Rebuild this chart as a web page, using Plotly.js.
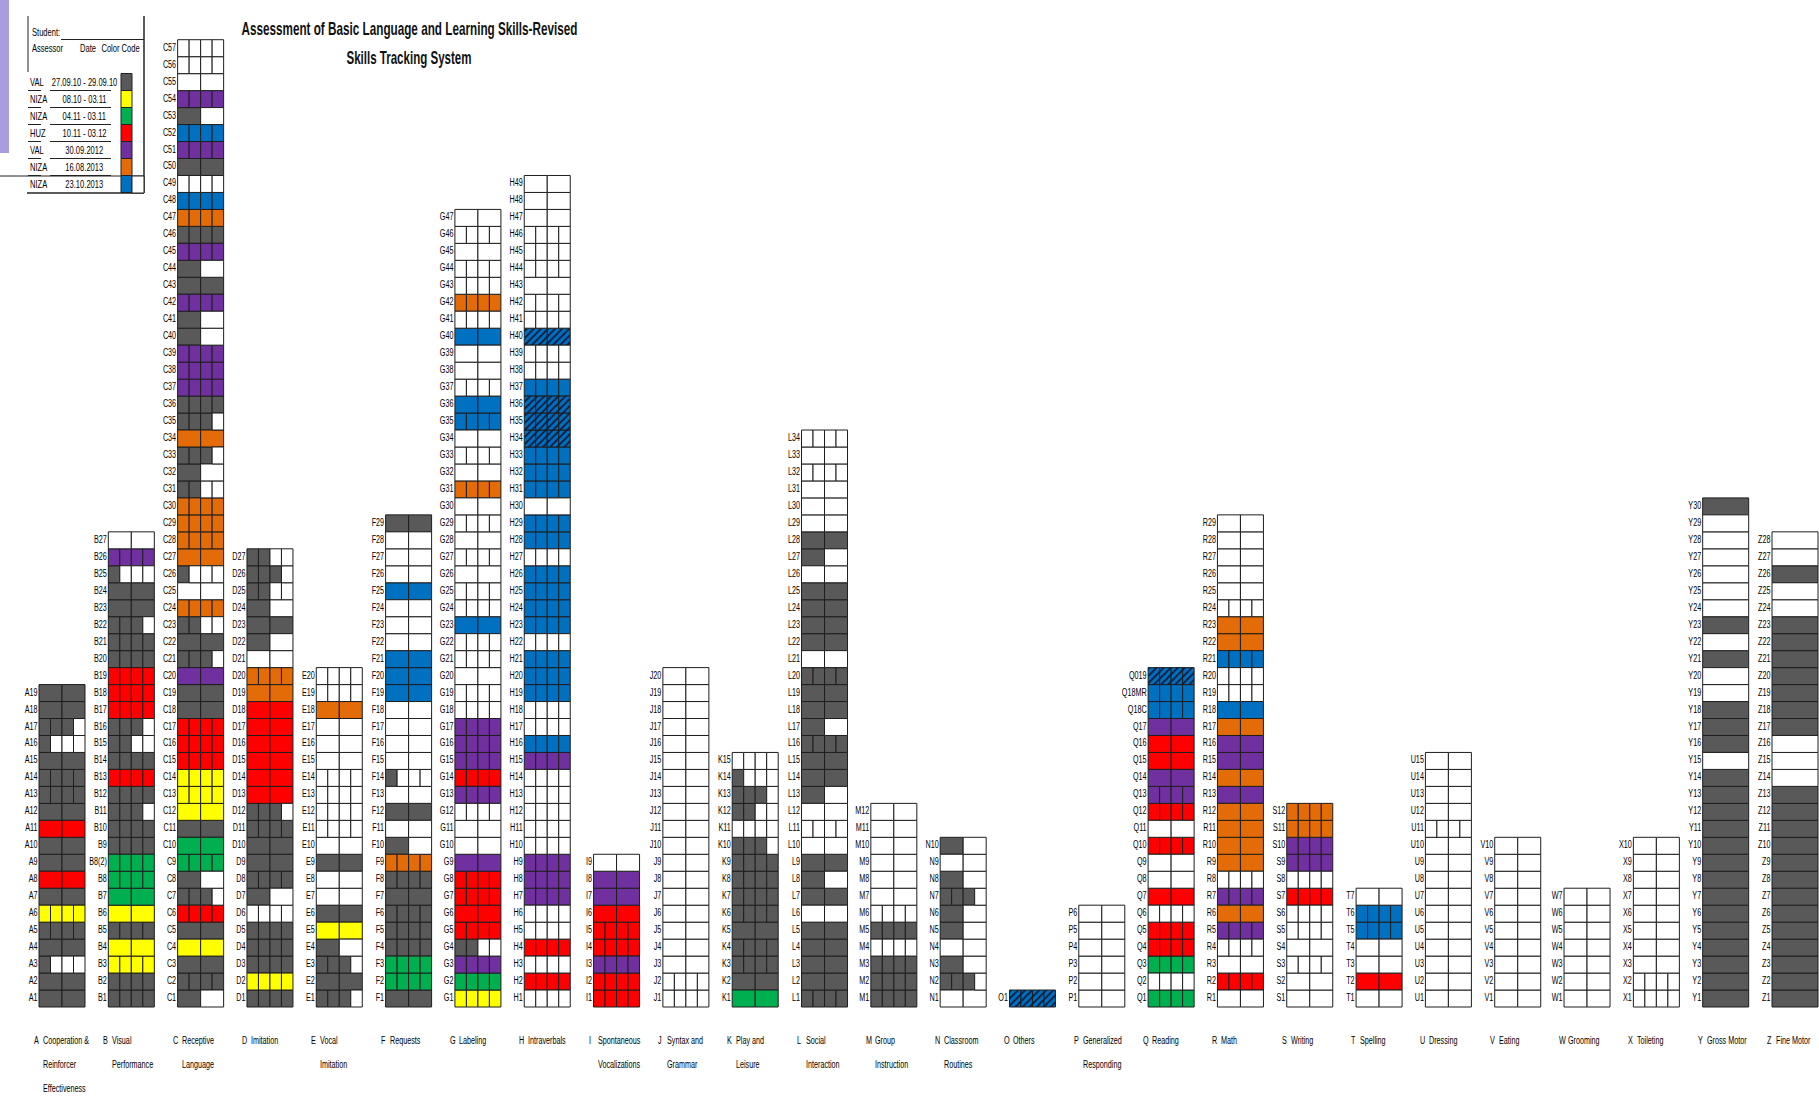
<!DOCTYPE html>
<html>
<head>
<meta charset="utf-8">
<script src="https://cdn.plot.ly/plotly-3.0.1.min.js"></script>
<style>
html,body{margin:0;padding:0;background:#fff;}
#chart{width:1819px;height:1096px;}
</style>
</head>
<body>
<div id="chart"></div>
<script>
// ---------------- DATA ----------------
const categoryLetters = ["A","B","C","D","E","F","G","H","I","J","K","L","M","N","O","P","Q","R","S","T","U","V","W","X","Y","Z"];
const categoryNames = [
  ["Cooperation &","Reinforcer","Effectiveness"],
  ["Visual","Performance"],
  ["Receptive","Language"],
  ["Imitation"],
  ["Vocal","Imitation"],
  ["Requests"],
  ["Labeling"],
  ["Intraverbals"],
  ["Spontaneous","Vocalizations"],
  ["Syntax and","Grammar"],
  ["Play and","Leisure"],
  ["Social","Interaction"],
  ["Group","Instruction"],
  ["Classroom","Routines"],
  ["Others"],
  ["Generalized","Responding"],
  ["Reading"],
  ["Math"],
  ["Writing"],
  ["Spelling"],
  ["Dressing"],
  ["Eating"],
  ["Grooming"],
  ["Toileting"],
  ["Gross Motor"],
  ["Fine Motor"]
];

// Each item, from item 1 upward: one letter per sub-cell, coded by assessment colour
// G=VAL 27.09.10, Y=NIZA 08.10, N=NIZA 04.11, R=HUZ 10.11, P=VAL 2012, O=NIZA 16.08.2013, B=NIZA 23.10.2013, X=hatched, W=not scored
const itemsA = ["GG","GG","GWWW","GG","GGGG","YYYY","GG","RR","GG","GG","RR","GG","GGGG","GGGG","GG","GWWW","GGGW","GG","GG"];
const itemsB = ["GGGG","GGGG","YYYY","YY","GGGG","YY","NN","NNNN","NNNN","GGGG","GGGG","GGGW","GGGG","RRRR","GGGG","GGWW","GGGW","RRRR","RRRR","RRRR","GGGG","GGGG","GGGW","GG","GG","GWWW","PPPP","WW"];
const itemsC = ["GW","GGGG","GG","YY","GG","RRRR","GGGW","GW","NNNN","NN","GG","YY","YYYY","YYYY","RRRR","RRRR","RRRR","GG","GG","PP","GGGW","GG","GGWW","OOOO","WW","GWWW","OO","OOOO","OOOO","OOOO","GGWW","GW","GGGW","OO","GGGW","GGGG","PPPP","PPPP","PPPP","GW","GW","PPPP","GG","GW","PPPP","GGGG","OOOO","BBBB","WWWW","GG","PPPP","BBBB","GW","PPPP","WW","WWWW","WWWW"];
const itemsD = ["GGGG","YYYY","GGGG","GGGG","GGGG","WWWW","GW","GGGG","GG","GG","GGGG","GGGW","RR","RR","RR","RR","RR","RR","OO","OOOO","WW","GW","GG","GW","GGWW","GGGW","GGWW"];
const itemsE = ["GGGW","GG","GGGW","GW","YY","GG","WW","WW","GG","WW","WWWW","WWWW","WWWW","WWWW","WW","WW","WW","OO","WWWW","WWWW"];
const itemsF = ["GG","NNNN","NNNN","GGGG","GGGG","GGGG","GG","GGGG","OOOO","GW","WW","GG","WW","GWWW","WW","WW","WW","WW","BB","BB","BB","WW","WW","WW","BB","WW","WW","WW","GG"];
const itemsG = ["YYYY","NNNN","PPPP","GGWW","RRRR","RR","RRRR","RRRR","PP","WW","WW","WWWW","PPPP","RRRR","PPPP","PPPP","PPPP","WWWW","WWWW","WW","WWWW","WWWW","BB","WWWW","WWWW","WW","WWWW","WW","WWWW","WW","OOOO","WW","WWWW","WW","BBBB","BB","WWWW","WW","WW","BB","WWWW","OOOO","WWWW","WWWW","WW","WWWW","WW"];
const itemsH = ["WWWW","RRRR","WWWW","RRRR","WWWW","WWWW","PPPP","PPPP","PPPP","WWWW","WWWW","WWWW","WWWW","WWWW","PPPP","BBBB","WWWW","WWWW","BBBB","BBBB","BBBB","WWWW","BBBB","BBBB","BBBB","BBBB","WWWW","BBBB","BBBB","WW","BBBB","BBBB","BBBB","XXXX","XXXX","XXXX","BBBB","WWWW","WWWW","XX","WWWW","WWWW","WW","WWWW","WWWW","WWWW","WW","WW","WW"];
const itemsI = ["RRRR","RRRR","PPPP","RRRR","RRRR","RR","PP","PP","WW"];
const itemsJ = ["WWWW","WWWW","WW","WW","WW","WW","WW","WW","WW","WW","WW","WW","WW","WW","WW","WW","WW","WW","WW","WW"];
const itemsK = ["NN","GG","GGGG","GGGG","GG","GGGG","GGGG","GGGG","GGGG","GGGW","WWWW","GGWW","GGGW","GWWW","WWWW"];
const itemsL = ["GGGG","GG","GG","GG","GG","WW","GG","GW","GG","WW","WWWW","WW","GW","GG","GG","GGGG","GW","GG","GG","GGGG","WW","GG","GG","GG","GG","WW","GW","GG","WW","WW","WW","WWWW","WW","WWWW"];
const itemsM = ["GGGG","GGGG","GGGG","WWWW","GGGG","WWWW","WW","WW","WW","WW","WW","WW"];
const itemsN = ["WW","GGGW","GW","WW","GW","GW","GGGW","GW","WW","GW"];
const itemsO = ["XXXX"];
const itemsP = ["WW","WW","WW","WW","WW","WW"];
const itemsQ = ["NNNN","WWWW","NNNN","RRRR","RRRR","WWWW","RR","WW","WW","RRRR","WW","RRRR","PPPP","PP","RR","RR","PP","BBBB","BBBB","XXXX"];
const itemsR = ["WW","RRRR","WW","WWWW","PPPP","OO","PPPP","WWWW","OO","OO","OO","OO","PP","OO","PP","PP","OO","BB","WWWW","WWWW","BBBB","OO","OO","WWWW","WW","WW","WW","WW","WW"];
const itemsS = ["WW","WW","WWWW","WW","WWWW","WWWW","RRRR","WWWW","PPPP","PPPP","OOOO","OOOO"];
const itemsT = ["WW","RR","WW","WW","BBBB","BBBB","WW"];
const itemsU = ["WW","WW","WW","WW","WW","WW","WW","WW","WW","WW","WWWW","WW","WW","WW","WW"];
const itemsV = ["WW","WW","WW","WW","WW","WW","WW","WW","WW","WW"];
const itemsW = ["WW","WW","WW","WW","WW","WW","WW"];
const itemsX = ["WWWW","WWWW","WW","WW","WW","WW","WW","WW","WW","WW"];
const itemsY = ["G","G","G","G","G","G","G","G","G","G","G","G","G","G","W","G","G","G","W","W","G","W","G","W","W","W","W","W","W","G"];
const itemsZ = ["G","G","G","G","G","G","G","G","G","G","G","G","G","W","W","W","G","G","G","G","G","G","G","W","W","G","W","W"];

const labelsB = ["B1","B2","B3","B4","B5","B6","B7","B8","B8(2)","B9","B10","B11","B12","B13","B14","B15","B16","B17","B18","B19","B20","B21","B22","B23","B24","B25","B26","B27"];
const labelsQ = ["Q1","Q2","Q3","Q4","Q5","Q6","Q7","Q8","Q9","Q10","Q11","Q12","Q13","Q14","Q15","Q16","Q17","Q18C","Q18MR","Q019"];

const legendAssessors = ["VAL","NIZA","NIZA","HUZ","VAL","NIZA","NIZA"];
const legendDates = ["27.09.10 - 29.09.10","08.10 - 03.11","04.11 - 03.11","10.11 - 03.12","30.09.2012","16.08.2013","23.10.2013"];
const legendCodes = ["G","Y","N","R","P","O","B"];

const titleLine1 = "Assessment of Basic Language and Learning Skills-Revised";
const titleLine2 = "Skills Tracking System";

// ---------------- STYLE / LAYOUT ----------------
const palette = {G:"#595959",Y:"#ffff00",N:"#00b050",R:"#ff0000",P:"#7030a0",O:"#e36c09",B:"#0070c0",X:"#0070c0",W:"#ffffff"};
const FONT = "'Liberation Sans Narrow','Arial Narrow','Liberation Sans',Arial,sans-serif";
const COL_PX = 69.32, LEFT_PX = 39, ROW_PX = 16.97, BASE_PX = 1007, W_PX = 1819, H_PX = 1096;
const GRID_W = 46 / COL_PX;
const X = px => (px - LEFT_PX) / COL_PX;
const Y = py => (BASE_PX - py) / ROW_PX;

const allItems = [itemsA,itemsB,itemsC,itemsD,itemsE,itemsF,itemsG,itemsH,itemsI,itemsJ,itemsK,itemsL,itemsM,itemsN,itemsO,itemsP,itemsQ,itemsR,itemsS,itemsT,itemsU,itemsV,itemsW,itemsX,itemsY,itemsZ];
const customLabels = {B: labelsB, Q: labelsQ};

const cells = {};
Object.keys(palette).forEach(k => cells[k] = {x:[],base:[],w:[]});
const lblX = [], lblY = [], lblT = [];
allItems.forEach((items, ci) => {
  const letter = categoryLetters[ci];
  items.forEach((code, ri) => {
    const n = code.length, cw = GRID_W / n;
    for (let k = 0; k < n; k++) {
      const c = cells[code[k]];
      c.x.push(ci + (k + 0.5) * cw);
      c.base.push(ri);
      c.w.push(cw);
    }
    lblX.push(ci - 1.5 / COL_PX);
    lblY.push(ri + 0.5);
    lblT.push(customLabels[letter] ? customLabels[letter][ri] : letter + (ri + 1));
  });
});

const traces = [];
Object.keys(cells).forEach(k => {
  const c = cells[k];
  if (!c.x.length) return;
  const marker = {color: palette[k], line: {color: "#1e1e1e", width: 1}};
  if (k === "X") marker.pattern = {shape: "/", fgcolor: "#0a1a3c", bgcolor: palette.X, fillmode: "replace", size: 5, solidity: 0.35};
  traces.push({type: "bar", x: c.x, y: c.x.map(() => 1), base: c.base, width: c.w,
    marker: marker, hoverinfo: "skip", showlegend: false, cliponaxis: false});
});
traces.push({type: "scatter", mode: "text", x: lblX, y: lblY, text: lblT,
  textposition: "middle left", textfont: {family: FONT, size: 10, color: "#000"},
  hoverinfo: "skip", showlegend: false, cliponaxis: false});

// ---------------- annotations & shapes ----------------
const annotations = [];
const shapes = [];
annotations.push({x: X(409), y: Y(28), xref: "x", yref: "y", text: "<b>" + titleLine1 + "</b>",
  showarrow: false, font: {family: FONT, size: 19, color: "#111"}, xanchor: "center", yanchor: "middle"});
annotations.push({x: X(409), y: Y(57), xref: "x", yref: "y", text: "<b>" + titleLine2 + "</b>",
  showarrow: false, font: {family: FONT, size: 19, color: "#111"}, xanchor: "center", yanchor: "middle"});

categoryLetters.forEach((L, ci) => {
  const lines = categoryNames[ci];
  const lineY = [1040.5, 1064, 1088];
  annotations.push({x: ci - 7 / COL_PX, y: Y(lineY[0]), xref: "x", yref: "y", text: L, showarrow: false,
    xanchor: "left", yanchor: "middle", font: {family: FONT, size: 10, color: "#000"}});
  lines.forEach((t, li) => {
    annotations.push({x: ci + 2 / COL_PX, y: Y(lineY[li]), xref: "x", yref: "y", text: t, showarrow: false,
      xanchor: "left", yanchor: "middle", font: {family: FONT, size: 10, color: "#000"}});
  });
});

shapes.push({type: "rect", xref: "x", yref: "y", x0: X(0), x1: X(9), y0: Y(0), y1: Y(153),
  fillcolor: "#a99ddf", line: {width: 0}, layer: "below"});

const lineS = (x0, y0, x1, y1, w) => shapes.push({type: "line", xref: "x", yref: "y", x0: X(x0), x1: X(x1), y0: Y(y0), y1: Y(y1), line: {color: "#222", width: w || 1}});
lineS(28, 16, 28, 72, 1);
lineS(144, 16, 144, 193, 1.5);
lineS(61, 39.5, 144, 39.5, 1);
lineS(0, 176, 144, 176, 1);
lineS(27, 193, 144, 193, 1.5);
const legFont = {family: FONT, size: 10.5, color: "#000"};
annotations.push({x: X(30), y: Y(32), xref: "x", yref: "y", text: "Student:", showarrow: false, xanchor: "left", font: legFont});
annotations.push({x: X(30), y: Y(48), xref: "x", yref: "y", text: "Assessor", showarrow: false, xanchor: "left", font: legFont});
annotations.push({x: X(88), y: Y(48), xref: "x", yref: "y", text: "Date", showarrow: false, xanchor: "center", font: legFont});
annotations.push({x: X(120), y: Y(48), xref: "x", yref: "y", text: "Color Code", showarrow: false, xanchor: "center", font: legFont});
legendAssessors.forEach((a, i) => {
  const cy = 82 + i * 17;
  annotations.push({x: X(28), y: Y(cy), xref: "x", yref: "y", text: a, showarrow: false, xanchor: "left", font: legFont});
  annotations.push({x: X(84), y: Y(cy), xref: "x", yref: "y", text: legendDates[i], showarrow: false, xanchor: "center", font: legFont});
  shapes.push({type: "rect", xref: "x", yref: "y", x0: X(121), x1: X(132), y0: Y(cy - 8.5), y1: Y(cy + 8.5),
    fillcolor: palette[legendCodes[i]], line: {color: "#222", width: 1}});
  if (i < 6) {
    lineS(28, cy + 8.5, 41, cy + 8.5, 1);
    lineS(50, cy + 8.5, 111, cy + 8.5, 1);
  }
});
shapes.push({type: "rect", xref: "x", yref: "y", x0: X(132), x1: X(144), y0: Y(176), y1: Y(193),
  fillcolor: "#fff", line: {color: "#222", width: 1}});

const layout = {
  width: W_PX, height: H_PX,
  margin: {l: 0, r: 0, t: 0, b: 0},
  paper_bgcolor: "#fff", plot_bgcolor: "#fff",
  barmode: "overlay",
  showlegend: false,
  xaxis: {range: [X(0), X(W_PX)], visible: false, fixedrange: true},
  yaxis: {range: [Y(H_PX), Y(0)], visible: false, fixedrange: true},
  annotations: annotations,
  shapes: shapes
};

// condensed look of the original typeface: squeeze text horizontally, keeping each text's anchor
const titleWidths = {};
titleWidths[titleLine1] = 336;
titleWidths[titleLine2] = 125;
const SQUEEZE = 0.72;

function squeeze(el, anchorLeft) {
  const t = el.textContent;
  if (!t) return;
  const len = el.getComputedTextLength();
  if (!len) return;
  const before = el.getBBox().x;
  const target = titleWidths[t] !== undefined ? titleWidths[t] : len * SQUEEZE;
  el.setAttribute("textLength", target.toFixed(2));
  el.setAttribute("lengthAdjust", "spacingAndGlyphs");
  if (anchorLeft) {
    const after = el.getBBox().x;
    const x0 = parseFloat(el.getAttribute("x") || "0");
    el.setAttribute("x", (x0 + (before - after)).toFixed(2));
  }
}

Plotly.newPlot("chart", traces, layout, {staticPlot: true, displayModeBar: false}).then(gd => {
  const done = new Set();
  gd.querySelectorAll("g.annotation").forEach(g => {
    const idx = parseInt(g.getAttribute("data-index"), 10);
    const ann = annotations[idx];
    const el = g.querySelector("text");
    if (!el) return;
    squeeze(el, ann && ann.xanchor === "left");
    done.add(el);
    // fit the (invisible) annotation box to the squeezed text
    const bg = g.querySelector("rect.bg");
    if (bg && bg.parentNode === el.parentNode) {
      const bb = el.getBBox();
      bg.setAttribute("x", (bb.x - 1).toFixed(2));
      bg.setAttribute("width", (bb.width + 2).toFixed(2));
    }
  });
  gd.querySelectorAll("text").forEach(el => { if (!done.has(el)) squeeze(el, false); });
});
</script>
</body>
</html>
